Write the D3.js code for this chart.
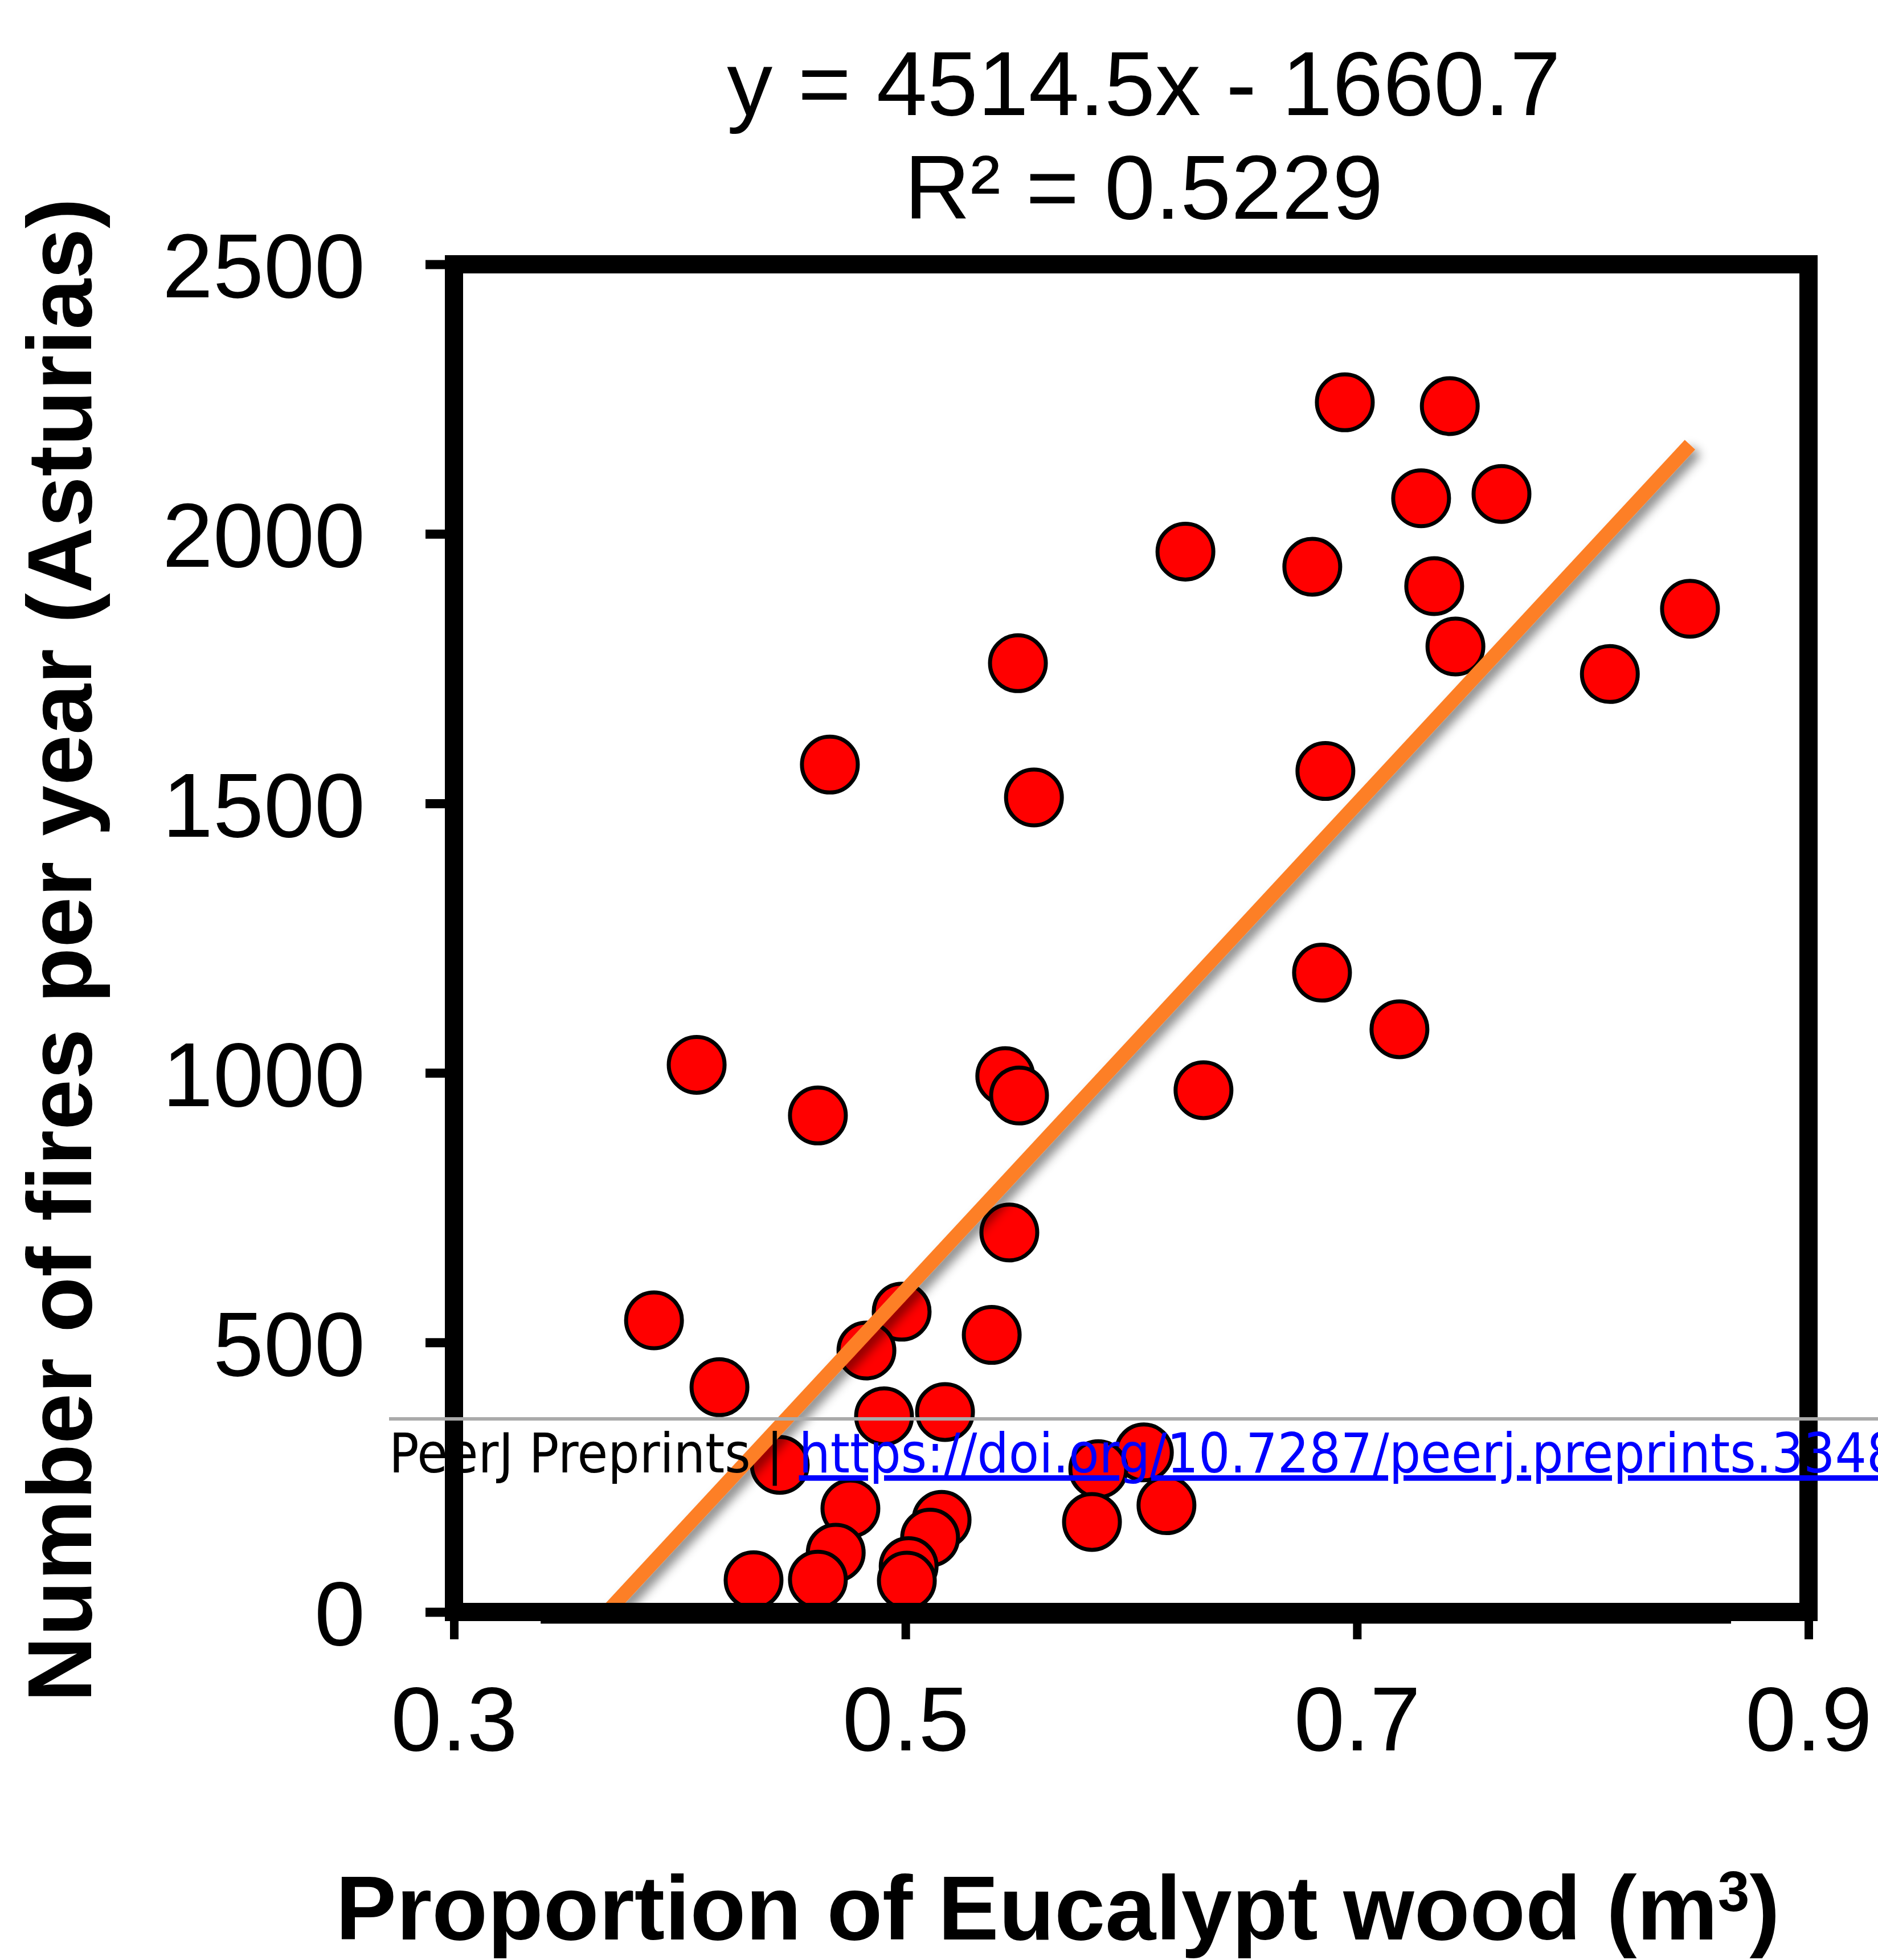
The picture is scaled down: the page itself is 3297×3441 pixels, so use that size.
<!DOCTYPE html>
<html>
<head>
<meta http-equiv="Content-Type" content="text/html; charset=UTF-8">
<!-- Load d3.js -->
<script src="https://d3js.org/d3.v7.min.js"></script>
<style>
  body { margin: 0; background: #fff; }
  text { font-family: "Liberation Sans", Arial, sans-serif; }
</style>
</head>
<body>
<div id="my_dataviz"></div>
<script>
// values
var proportion = [0.6946, 0.7411, 0.7284, 0.7640, 0.6240, 0.6802, 0.7342, 0.8475, 0.7436, 0.8120,
                  0.5498, 0.4665, 0.5569, 0.6860, 0.6845, 0.7188, 0.4075, 0.4612, 0.5442, 0.5503,
                  0.6320, 0.5460, 0.3886, 0.4983, 0.4827, 0.5382, 0.4176, 0.4905, 0.5175, 0.4443,
                  0.6056, 0.5854, 0.4756, 0.5160, 0.6156, 0.5826, 0.4691, 0.5109, 0.5014, 0.4327,
                  0.4612, 0.5006];
var fires = [2244, 2237, 2066, 2074, 1967, 1939, 1903, 1861, 1791, 1740,
             1760, 1572, 1511, 1560, 1186, 1081, 1015, 921, 994, 958,
             968, 704, 541, 557, 485, 514, 417, 363, 371, 273,
             296, 265, 192, 171, 198, 167, 110, 138, 85, 59,
             60, 58];
var xTicks = [0.3, 0.5, 0.7, 0.9];
var yTicks = [0, 500, 1000, 1500, 2000, 2500];
var slope = 4514.5, intercept = -1660.7, rSquared = 0.5229;

var W = 3297, H = 3441;
var margin = {top: 464, right: 122, bottom: 611, left: 797},
    width = W - margin.left - margin.right,
    height = H - margin.top - margin.bottom;

var svg = d3.select("#my_dataviz")
  .append("svg")
    .attr("width", W)
    .attr("height", H);

// shadow under the trend line
var defs = svg.append("defs");
var f = defs.append("filter").attr("id", "shadow")
  .attr("x", "-20%").attr("y", "-20%").attr("width", "140%").attr("height", "140%");
f.append("feDropShadow")
  .attr("dx", 10).attr("dy", 10).attr("stdDeviation", 9)
  .attr("flood-color", "#000").attr("flood-opacity", 0.45);
defs.append("clipPath").attr("id", "plotclip")
  .append("rect").attr("x", 0).attr("y", -50).attr("width", width + 50).attr("height", height + 50);

var g = svg.append("g")
  .attr("transform", "translate(" + margin.left + "," + margin.top + ")");

var x = d3.scaleLinear().domain([0.3, 0.9]).range([0, width]);
var y = d3.scaleLinear().domain([0, 2500]).range([height, 0]);

// Y axis
var yAxis = g.append("g")
  .call(d3.axisLeft(y).tickValues(yTicks).tickSize(50).tickSizeOuter(0).tickPadding(106)
        .tickFormat(d3.format("d")));
yAxis.select(".domain").remove();
yAxis.selectAll("line").attr("stroke", "#000").attr("stroke-width", 16);
yAxis.selectAll("text")
  .attr("dy", "0.36em")
  .style("font-family", "Liberation Sans, Arial, sans-serif")
  .style("font-size", "160px")
  .attr("fill", "#000");

// X axis
var xAxis = g.append("g")
  .attr("transform", "translate(0," + height + ")")
  .call(d3.axisBottom(x).tickValues(xTicks).tickSize(48).tickSizeOuter(0).tickPadding(81)
        .tickFormat(d3.format(".1f")));
xAxis.select(".domain").remove();
xAxis.selectAll("line").attr("stroke", "#000").attr("stroke-width", 15);
xAxis.selectAll("text")
  .style("font-family", "Liberation Sans, Arial, sans-serif")
  .style("font-size", "160px")
  .attr("fill", "#000");

// points
var pts = proportion.map(function(d, i) { return {x: d, y: fires[i]}; });
g.selectAll("circle.pt")
  .data(pts)
  .enter()
  .append("circle")
    .attr("class", "pt")
    .attr("cx", function(d) { return x(d.x); })
    .attr("cy", function(d) { return y(d.y); })
    .attr("r", 49)
    .attr("fill", "#FF0000")
    .attr("stroke", "#000")
    .attr("stroke-width", 7);

// linear trend line
var x0 = -intercept / slope, x1 = d3.max(proportion);
g.append("line")
  .attr("clip-path", "url(#plotclip)")
  .attr("x1", x(x0)).attr("y1", y(slope * x0 + intercept))
  .attr("x2", x(x1)).attr("y2", y(slope * x1 + intercept))
  .attr("stroke", "#FD7F28")
  .attr("stroke-width", 25)
  .attr("filter", "url(#shadow)");

// frame
g.append("rect")
  .attr("x", 0).attr("y", 0)
  .attr("width", width).attr("height", height)
  .attr("fill", "none")
  .attr("stroke", "#000")
  .attr("stroke-width", 32);
g.append("line")
  .attr("x1", x(0.3384)).attr("x2", x(0.8657))
  .attr("y1", height + 5).attr("y2", height + 5)
  .attr("stroke", "#000").attr("stroke-width", 31);

// equation
svg.append("text")
  .attr("x", 2008).attr("y", 202)
  .attr("text-anchor", "middle")
  .style("font-size", "160px")
  .text("y = " + slope + "x - " + Math.abs(intercept));
svg.append("text")
  .attr("x", 2008).attr("y", 384)
  .attr("text-anchor", "middle")
  .style("font-size", "160px")
  .text("R² = " + rSquared);

// axis titles
svg.append("text")
  .attr("transform", "translate(160,1668) rotate(-90)")
  .attr("text-anchor", "middle")
  .style("font-size", "160px")
  .style("font-weight", "bold")
  .text("Number of fires per year (Asturias)");

var xt = svg.append("text")
  .attr("x", 1857).attr("y", 3405)
  .attr("text-anchor", "middle")
  .style("font-size", "160px")
  .style("font-weight", "bold");
xt.append("tspan").text("Proportion of Eucalypt wood (m");
xt.append("tspan").attr("dy", -50).style("font-size", "100px").text("3");
xt.append("tspan").attr("dy", 50).text(")");

// preprint footer (runs off the right edge, as in the source page)
svg.append("line")
  .attr("x1", 683).attr("x2", W)
  .attr("y1", 2491).attr("y2", 2491)
  .attr("stroke", "#AAAAAA").attr("stroke-width", 6);
var ft = svg.append("text")
  .attr("x", 683).attr("y", 2585)
  .style("font-family", "'DejaVu Sans Condensed', 'DejaVu Sans', sans-serif")
  .style("font-stretch", "condensed")
  .style("font-size", "97px");
ft.append("tspan").attr("fill", "#000").text("PeerJ Preprints | ");
ft.append("tspan").attr("fill", "#0000FF").style("text-decoration", "underline")
  .text("https://doi.org/10.7287/peerj.preprints.3348v1");
</script>
</body></html>
